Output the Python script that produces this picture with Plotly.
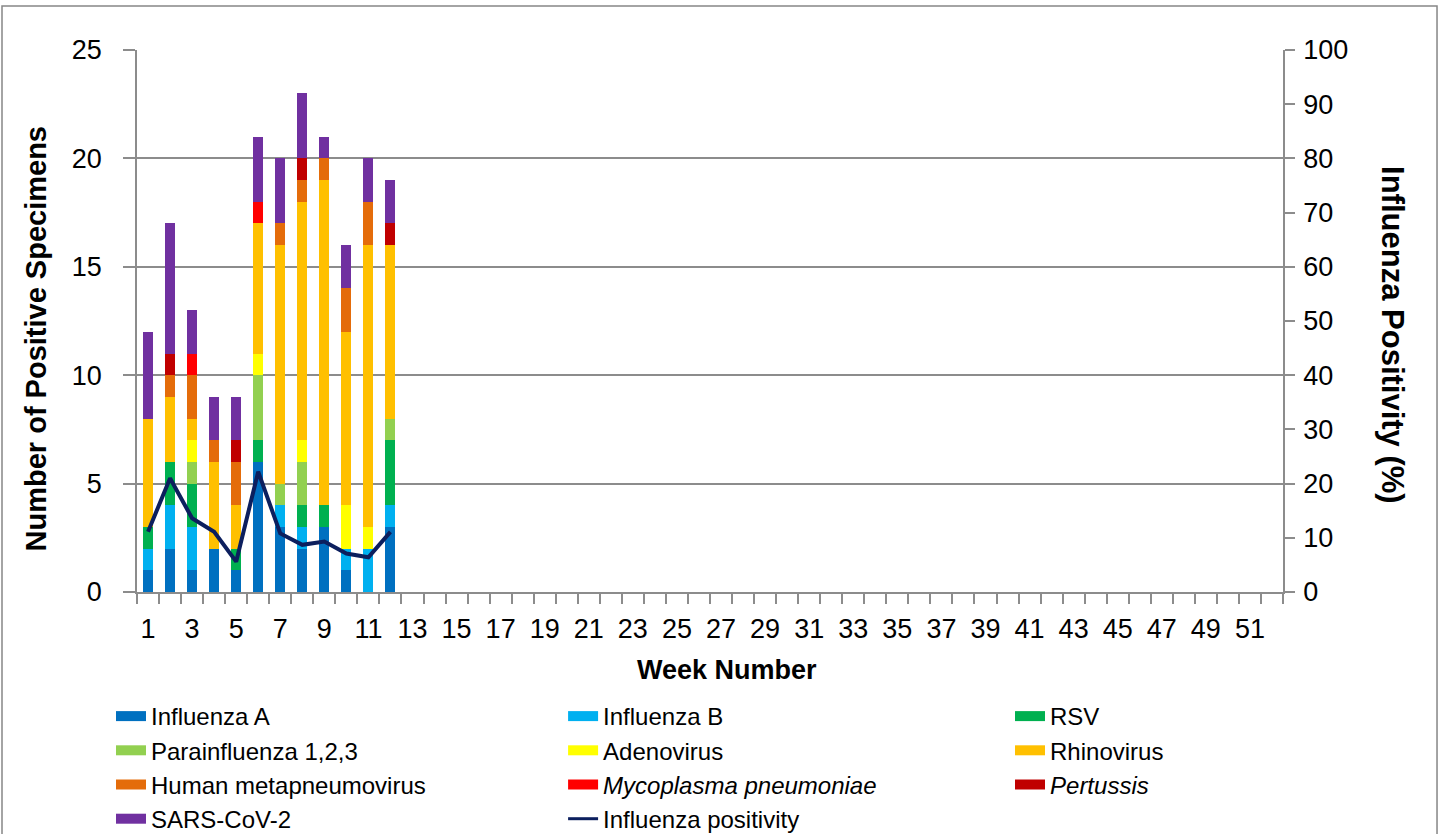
import plotly.graph_objects as go

weeks = list(range(1, 13))
influenza_a   = [1, 2, 1, 2, 1, 6, 3, 2, 3, 1, 0, 3]
influenza_b   = [1, 2, 2, 0, 0, 0, 1, 1, 0, 1, 2, 1]
rsv           = [1, 2, 2, 0, 1, 1, 0, 1, 1, 0, 0, 3]
parainfluenza = [0, 0, 1, 0, 0, 3, 1, 2, 0, 0, 0, 1]
adenovirus    = [0, 0, 1, 0, 0, 1, 0, 1, 0, 2, 1, 0]
rhinovirus    = [5, 3, 1, 4, 2, 6, 11, 11, 15, 8, 13, 8]
hmpv          = [0, 1, 2, 1, 2, 0, 1, 1, 1, 2, 2, 0]
mycoplasma    = [0, 0, 1, 0, 0, 1, 0, 0, 0, 0, 0, 0]
pertussis     = [0, 1, 0, 0, 1, 0, 0, 1, 0, 0, 0, 1]
sars_cov_2    = [4, 6, 2, 2, 2, 3, 3, 3, 1, 2, 2, 2]
flu_positivity = [11.1, 21.0, 13.6, 11.1, 5.6, 22.2, 10.8, 8.7, 9.3, 7.1, 6.4, 11.1]
x_ticks = list(range(1, 52, 2))

# name, values, colour, legend column
series = [
    ("Influenza A", influenza_a, "#0070C0", "legend"),
    ("Influenza B", influenza_b, "#00B0F0", "legend2"),
    ("RSV", rsv, "#00B050", "legend3"),
    ("Parainfluenza 1,2,3", parainfluenza, "#92D050", "legend"),
    ("Adenovirus", adenovirus, "#FFFF00", "legend2"),
    ("Rhinovirus", rhinovirus, "#FFC000", "legend3"),
    ("Human metapneumovirus", hmpv, "#E46C0A", "legend"),
    ("<i>Mycoplasma pneumoniae</i>", mycoplasma, "#FF0000", "legend2"),
    ("<i>Pertussis</i>", pertussis, "#C00000", "legend3"),
    ("SARS-CoV-2", sars_cov_2, "#7030A0", "legend"),
]

FONT = "Liberation Sans, Arial, sans-serif"
GRID = "#8C8C8C"
LINE_COL = "#0C1F5E"

fig = go.Figure()
for name, vals, col, lg in series:
    fig.add_trace(go.Bar(x=weeks, y=vals, name=name, marker_color=col,
                         marker_line_width=0, showlegend=False))
fig.add_trace(go.Scatter(x=weeks, y=flu_positivity, name="Influenza positivity",
                         mode="lines", line=dict(color=LINE_COL, width=4),
                         yaxis="y2", showlegend=False))

# legend entries (wide rectangular swatches like the original)
for lg in ["legend", "legend2", "legend3"]:
    for name, vals, col, l in series:
        if l == lg:
            fig.add_trace(go.Scatter(x=[None], y=[None], name=name, mode="lines",
                                     line=dict(color=col, width=13), legend=lg,
                                     hoverinfo="skip"))
    if lg == "legend2":
        fig.add_trace(go.Scatter(x=[None], y=[None], name="Influenza positivity",
                                 mode="lines", line=dict(color=LINE_COL, width=3),
                                 legend=lg, hoverinfo="skip", yaxis="y2"))

leg_common = dict(orientation="v", yanchor="top", xanchor="left", y=-0.1882,
                  font=dict(size=24, family=FONT), tracegroupgap=0,
                  bgcolor="rgba(0,0,0,0)", traceorder="normal", itemwidth=30)

fig.update_layout(
    width=1442, height=834,
    margin=dict(l=137, r=159, t=50, b=242, autoexpand=False),
    barmode="stack", bargap=0.55,
    plot_bgcolor="white", paper_bgcolor="white",
    font=dict(family=FONT, color="black"),
    showlegend=True,
    legend=dict(x=-0.0227, **leg_common),
    legend2=dict(x=0.3718, **leg_common),
    legend3=dict(x=0.7618, **leg_common),
    xaxis=dict(range=[0.5, 52.5], tickmode="array", tickvals=x_ticks,
               ticktext=[str(v) for v in x_ticks], ticks="",
               tickfont=dict(size=27), ticklabelstandoff=12, automargin=False,
               showline=True, linecolor=GRID, linewidth=1.5,
               showgrid=False, zeroline=False,
               minor=dict(ticks="outside", tick0=0.5, dtick=1, ticklen=10,
                          tickcolor=GRID, tickwidth=1.5)),
    yaxis=dict(range=[0, 25], dtick=5, ticks="outside", ticklen=12, tickcolor=GRID,
               tickwidth=1.5, tickfont=dict(size=27), ticklabelstandoff=16,
               automargin=False, showline=True, linecolor=GRID,
               linewidth=1.5, showgrid=True, gridcolor=GRID, gridwidth=1.5,
               zeroline=False),
    yaxis2=dict(range=[0, 100], dtick=10, overlaying="y", side="right",
                ticks="outside", ticklen=10, tickcolor=GRID, tickwidth=1.5,
                tickfont=dict(size=27), ticklabelstandoff=3, automargin=False,
                showline=True, linecolor=GRID, linewidth=1.5,
                showgrid=False, zeroline=False),
)

fig.add_annotation(text="<b>Week Number</b>", xref="paper", yref="paper",
                   x=0.515, y=-0.144, xanchor="center", yanchor="middle",
                   showarrow=False, font=dict(size=27, family=FONT))
fig.add_annotation(text="<b>Number of Positive Specimens</b>", textangle=-90,
                   xref="paper", yref="paper", x=-0.0881, y=0.466,
                   xanchor="center", yanchor="middle", showarrow=False,
                   font=dict(size=29, family=FONT))
fig.add_annotation(text="<b>Influenza Positivity (%)</b>", textangle=90,
                   xref="paper", yref="paper", x=1.096, y=0.474,
                   xanchor="center", yanchor="middle", showarrow=False,
                   font=dict(size=31, family=FONT))

fig.add_shape(type="rect", xref="paper", yref="paper",
              x0=-0.1178, x1=1.1344, y0=-0.46, y1=1.081,
              line=dict(color="#868686", width=1.5), layer="below")

fig.write_html("out.html", config={"displayModeBar": False},
               post_script="document.body.style.margin='0px';")
